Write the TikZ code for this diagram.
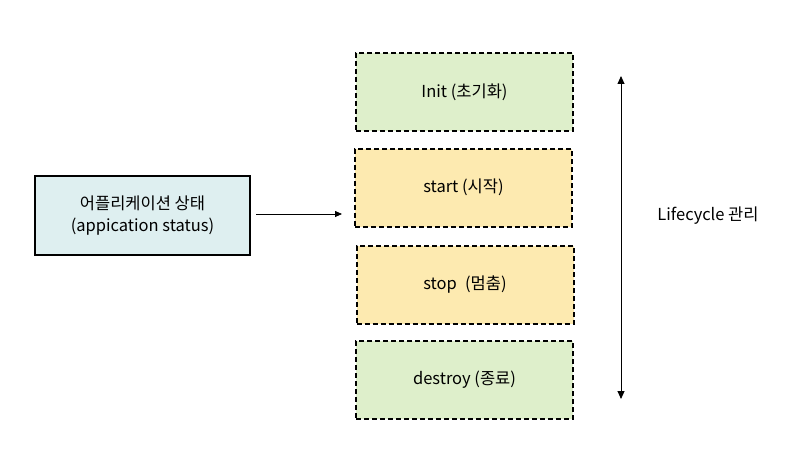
\documentclass[tikz,border=0pt]{standalone}
\usepackage{fontspec}
\setmainfont{Noto Sans CJK KR}
\usetikzlibrary{arrows.meta}
\definecolor{boxblue}{HTML}{DEEFF0}
\definecolor{boxgreen}{HTML}{DEEFCB}
\definecolor{boxyellow}{HTML}{FDEAB0}
\tikzset{
  px/.style={x=1pt,y=-1pt},
  statebox/.style={draw=black, line width=2pt, dash pattern=on 5pt off 3pt, minimum width=217pt, minimum height=78pt, inner sep=0pt, font=\fontsize{16.5}{20}\selectfont},
  appbox/.style={draw=black, line width=2pt, fill=boxblue, minimum width=215pt, minimum height=79pt, align=center, font=\fontsize{16.5}{22}\selectfont},
  conn/.style={-{Triangle[length=7pt,width=6pt]}, line width=0.8pt},
}
\begin{document}
\begin{tikzpicture}[px]
\useasboundingbox (0,0) rectangle (799,468);
\node[appbox] (app) at (142.5,215.5) {어플리케이션 상태\\(appication status)};
\node[statebox, fill=boxgreen] (init) at (464.5,92) {Init (초기화)};
\node[statebox, fill=boxyellow] (start) at (463.5,187.5) {start (시작)};
\node[statebox, fill=boxyellow] (stop) at (465,285) {stop\hspace{0.5em}(멈춤)};
\node[statebox, fill=boxgreen] (destroy) at (464.5,380) {destroy (종료)};
\coordinate (a1) at (256,214);
\coordinate (a2) at (342,214);
\draw[conn] (a1) -- (a2);
\coordinate (top) at (621,76);
\coordinate (bot) at (621,399);
\draw[{Triangle[length=8pt,width=7pt]}-{Triangle[length=8pt,width=7pt]}, line width=0.9pt] (top) -- (bot);
\node[font=\fontsize{16.5}{20}\selectfont] (lc) at (708,216) {Lifecycle 관리};
\end{tikzpicture}
\end{document}
